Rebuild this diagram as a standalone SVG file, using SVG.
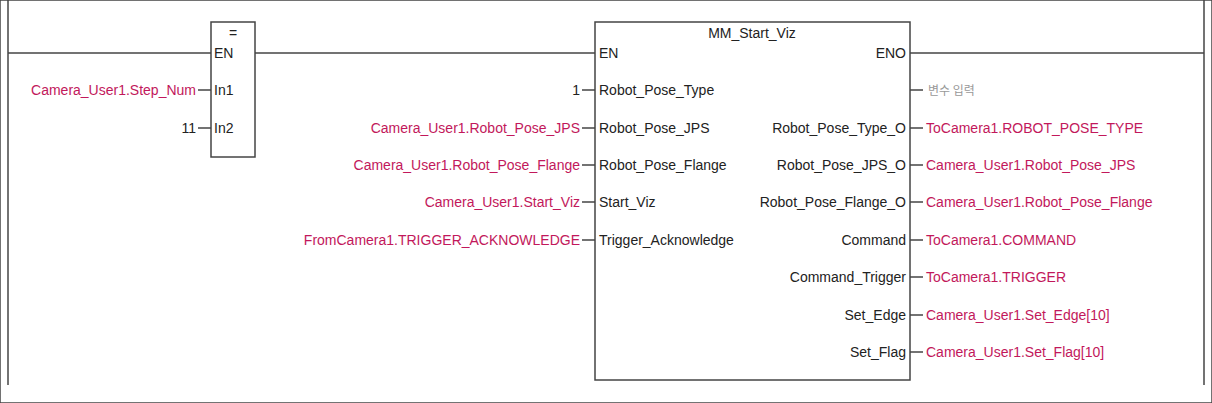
<svg xmlns="http://www.w3.org/2000/svg" width="1212" height="403" viewBox="0 0 1212 403">
<style>
text{font-family:"Liberation Sans",Arial,sans-serif;font-size:14px;fill:#222}
.v{fill:#c2185b}
.g{fill:#999}
.r{text-anchor:end}
.c{text-anchor:middle}
line,rect{stroke:#444;stroke-width:1.5;fill:none}
</style>
<rect width="1212" height="403" fill="#fff" stroke="none"/>
<g id="connectors">
<line x1="8" y1="0" x2="8" y2="385"/>
<line x1="1204" y1="0" x2="1204" y2="385"/>
<line x1="8" y1="53" x2="211" y2="53"/>
<line x1="255" y1="53" x2="595" y2="53"/>
<line x1="910" y1="53" x2="1204" y2="53"/>
<line x1="198" y1="90" x2="211" y2="90"/>
<line x1="198" y1="128" x2="211" y2="128"/>
<line x1="582" y1="90" x2="595" y2="90"/>
<line x1="582" y1="128" x2="595" y2="128"/>
<line x1="582" y1="165" x2="595" y2="165"/>
<line x1="582" y1="202" x2="595" y2="202"/>
<line x1="582" y1="240" x2="595" y2="240"/>
<line x1="910" y1="90" x2="923" y2="90"/>
<line x1="910" y1="128" x2="923" y2="128"/>
<line x1="910" y1="165" x2="923" y2="165"/>
<line x1="910" y1="202" x2="923" y2="202"/>
<line x1="910" y1="240" x2="923" y2="240"/>
<line x1="910" y1="277" x2="923" y2="277"/>
<line x1="910" y1="315" x2="923" y2="315"/>
<line x1="910" y1="352" x2="923" y2="352"/>
</g>
<g id="cmp">
<rect x="211" y="22" width="44" height="135"/>
<text x="233" y="38" class="c">=</text>
<text x="214" y="58">EN</text>
<text x="214" y="95">In1</text>
<text x="214" y="133">In2</text>
<text x="196" y="95" class="r v">Camera_User1.Step_Num</text>
<text x="196" y="133" class="r">11</text>
</g>
<g id="mm">
<rect x="595" y="22" width="315" height="358"/>
<text x="752" y="38" class="c">MM_Start_Viz</text>
<text x="599" y="58">EN</text>
<text x="599" y="95">Robot_Pose_Type</text>
<text x="599" y="133">Robot_Pose_JPS</text>
<text x="599" y="170">Robot_Pose_Flange</text>
<text x="599" y="207">Start_Viz</text>
<text x="599" y="245">Trigger_Acknowledge</text>
<text x="906" y="58" class="r">ENO</text>
<text x="906" y="133" class="r">Robot_Pose_Type_O</text>
<text x="906" y="170" class="r">Robot_Pose_JPS_O</text>
<text x="906" y="207" class="r">Robot_Pose_Flange_O</text>
<text x="906" y="245" class="r">Command</text>
<text x="906" y="282" class="r">Command_Trigger</text>
<text x="906" y="320" class="r">Set_Edge</text>
<text x="906" y="357" class="r">Set_Flag</text>
<text x="580" y="95" class="r">1</text>
<text x="580" y="133" class="r v">Camera_User1.Robot_Pose_JPS</text>
<text x="580" y="170" class="r v">Camera_User1.Robot_Pose_Flange</text>
<text x="580" y="207" class="r v">Camera_User1.Start_Viz</text>
<text x="580" y="245" class="r v">FromCamera1.TRIGGER_ACKNOWLEDGE</text>
<text x="928" y="95" class="g" style="font-size:12px;font-family:'Noto Sans CJK KR',sans-serif">변수 입력</text>
<text x="926" y="133" class="v">ToCamera1.ROBOT_POSE_TYPE</text>
<text x="926" y="170" class="v">Camera_User1.Robot_Pose_JPS</text>
<text x="926" y="207" class="v">Camera_User1.Robot_Pose_Flange</text>
<text x="926" y="245" class="v">ToCamera1.COMMAND</text>
<text x="926" y="282" class="v">ToCamera1.TRIGGER</text>
<text x="926" y="320" class="v">Camera_User1.Set_Edge[10]</text>
<text x="926" y="357" class="v">Camera_User1.Set_Flag[10]</text>
</g>
</svg>
